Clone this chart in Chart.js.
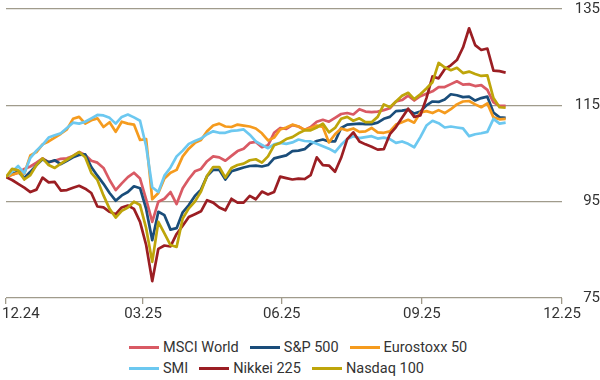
<!DOCTYPE html>
<html>
<head>
<meta charset="utf-8">
<script src="https://cdn.jsdelivr.net/npm/chart.js@4"></script>
<style>
  body { margin: 0; background: #fff; }
  #wrap { position: relative; width: 600px; height: 380px; font-family: Roboto, sans-serif; color: #333; }
  #legend { position: absolute; left: 129px; top: 337px; font-size: 14.5px; }
  .row { display: flex; height: 21px; align-items: center; white-space: nowrap; }
  .item { display: flex; align-items: center; margin-right: 11px; }
  .swatch { width: 30px; height: 3px; margin-right: 4px; }
</style>
</head>
<body>
<div id="wrap">
  <canvas id="chart" width="600" height="324"></canvas>
  <div id="legend"></div>
</div>
<script>
// x positions: samples every 4 calendar days from 31.12.2024
const dayStep = 4
const xTickDays = [0, 90, 181, 273, 365]
const xTickLabels = ['12.24', '03.25', '06.25', '09.25', '12.25']
const yTicks = [75, 95, 115, 135]

const seriesNames = ['MSCI World', 'S&P 500', 'Eurostoxx 50', 'SMI', 'Nikkei 225', 'Nasdaq 100']
const seriesColors = ['#D95A64', '#1A4D7A', '#F59B1E', '#6CC8F0', '#9B1E23', '#BEA50A']

const msciWorld = [
  100.1, 100.6, 101, 101.8, 102.3, 103.1, 104, 103.2, 103.5, 103.9,
  104, 104.5, 105.3, 104.7, 103.5, 103.1, 102, 99.5, 97.4, 98.8,
  100.1, 101, 99.8, 95.5, 90.8, 95, 95.6, 97, 94.5, 97.8,
  99.7, 101.3, 101.8, 103.4, 104.4, 104.2, 103.5, 104.5, 105.5, 106,
  107.2, 107.4, 106.3, 106.7, 109.3, 110.3, 110.1, 110.9, 110.6, 109.9,
  110.5, 111.6, 112, 111.6, 112.4, 113.2, 113.4, 113.1, 114.2, 113.7,
  113.6, 113.7, 114, 114.4, 115.8, 116.1, 117, 116, 116.9, 117.4,
  117.9, 118.8, 118.8, 119.4, 120, 119.3, 119.4, 119, 119.2, 118.2,
  115.6, 114.9, 114.9
]
const sp500 = [
  100.1, 100.8, 101.2, 99.9, 101.2, 102.6, 103.8, 103.2, 103.6, 102.8,
  103.5, 104.2, 104.7, 104.8, 102.2, 100.4, 98.7, 96.8, 95.2, 96.3,
  97, 98.2, 97.8, 93.5, 87, 92.9, 92.2, 89.2, 89.5, 92.8,
  94.3, 96.2, 97.5, 100.3, 101.6, 101.6, 99.6, 101.3, 101.7, 102.1,
  102.4, 102.5, 102.3, 102.6, 104, 104.3, 104.6, 105.5, 105.6, 105.9,
  107, 107.6, 107.9, 107.5, 107.5, 110.3, 111, 111.1, 111.2, 111.1,
  111.1, 111.4, 112.2, 112.6, 113.8, 113.9, 114.1, 113.3, 113.7, 115,
  115.8, 115.7, 116.2, 117.3, 117.1, 116.7, 116.8, 116, 116.5, 116.8,
  113.5, 112.5, 112.4
]
const eurostoxx50 = [
  100.1, 100.6, 101, 100.8, 104.6, 105.3, 106.9, 107.5, 108.3, 109.1,
  110, 112.2, 112.6, 111.2, 111.9, 112.3, 110.5, 111.5, 109.5, 111.6,
  111.2, 111, 107.8, 108, 95.5, 96.8, 99.8, 101, 101.6, 104.4,
  106, 107.2, 107.8, 109.6, 110.8, 111.2, 110.6, 110.5, 111, 110.8,
  110.6, 110.2, 109.2, 107.7, 108.3, 110, 110.4, 111, 110.6, 109.9,
  110.3, 110.8, 110.5, 107.3, 109, 110.2, 109.8, 110.2, 109.5, 109.6,
  110.3, 109.4, 109.3, 109.6, 111, 111.5, 112, 111.4, 113.5, 113.8,
  113.4, 114, 113.4, 114.2, 115.2, 115.8, 115.9, 115.2, 114.6, 115.4,
  112.5, 112.1, 112.2
]
const smi = [
  100.1, 101.2, 102.4, 100.9, 104.1, 105.6, 106.8, 108.3, 108.8, 109.2,
  110.3, 111.4, 111.2, 111.6, 112.3, 113, 112.9, 112.4, 111.2, 112.6,
  113.1, 112.5, 111.8, 106.5, 98, 97, 100.4, 102.1, 104.4, 105.6,
  107, 107.6, 108.1, 109, 109.6, 109.3, 109.3, 109.7, 109.8, 110,
  108.9, 107.5, 106.8, 106.1, 106.9, 107.2, 107, 107.3, 107.9, 107.6,
  107.5, 107, 106.5, 106, 105.3, 106.8, 108, 108.6, 108.2, 108.4,
  108.6, 108.1, 108.3, 108, 107.2, 107.5, 107, 106.3, 108.4, 110.8,
  111.8, 111.3, 110.4, 110.6, 110.4, 110.2, 108.6, 109, 109.2, 109.5,
  112.2, 111.2, 111.4
]
const nikkei225 = [
  100.1, 99.5, 98.7, 97.9, 97, 97.5, 100, 99, 99.1, 97.3,
  97.4, 97.9, 98.3, 97.7, 96.8, 94, 93.8, 92.9, 92.4, 93.8,
  94.2, 93.5, 90.8, 86, 78.5, 85.2, 85.9, 85.7, 88.3, 90,
  91.8, 92.4, 93, 95.3, 94.8, 93.8, 93.2, 95.6, 94.8, 94.8,
  96.2, 95.5, 97.1, 96.5, 97, 100.2, 99.9, 99.6, 99.8, 99.7,
  100.5, 104.2, 102.6, 102.5, 101.2, 104.1, 108, 109.4, 107.5, 106.9,
  106.4, 105.8, 105.9, 109, 110.5, 112.4, 114.3, 112.6, 112.9, 116.5,
  121, 120.6, 122.5, 123.3, 124.4, 127, 131, 127.5, 126.5, 126.8,
  122.2, 122.1, 121.8
]
const nasdaq100 = [
  100.1, 101.8, 101.5, 99.6, 100.5, 102.6, 104, 102.6, 102, 102.9,
  103.7, 104.5, 105.3, 104.2, 101, 99.5, 96.3, 93.5, 91.7, 93.1,
  93.8, 95, 94.3, 89.5, 82.5, 90.8, 88.4, 86, 85.6, 91.5,
  93.6, 95, 97.1, 100.4, 102.2, 102.2, 100, 102, 102.6, 102.9,
  103.6, 103.8, 103.1, 104.4, 106.7, 107.2, 108, 108.4, 109.2, 109.8,
  109.8, 110.4, 111.2, 109.4, 110.3, 112.2, 112.6, 111.8, 112.3, 111.5,
  111.5, 112.6, 115.2, 114.6, 115.8, 117, 117.6, 116.3, 117.3, 118.5,
  119.8, 123.8, 122.9, 122.3, 122.8, 121.7, 122, 121.5, 121.1, 121.2,
  116.5, 114.6, 114.5
]
const seriesValues = [msciWorld, sp500, eurostoxx50, smi, nikkei225, nasdaq100]

const TEXT = '#333333'
const GRID = '#A09B8C'
const FONT = 'Roboto, sans-serif'

const datasets = seriesNames.map((name, i) => ({
  label: name,
  data: seriesValues[i].map((v, k) => ({ x: k * dayStep, y: v })),
  borderColor: seriesColors[i],
  borderWidth: 2.7,
  borderJoinStyle: 'round',
  pointRadius: 0,
  tension: 0,
  order: seriesNames.length - i
}))

// x labels drawn by hand so the first one can sit inside the canvas
const xLabels = {
  id: 'xLabels',
  afterDraw(chart) {
    const { ctx, scales: { x } } = chart
    ctx.save()
    ctx.font = '15px ' + FONT
    ctx.fillStyle = TEXT
    ctx.textAlign = 'center'
    ctx.textBaseline = 'middle'
    xTickDays.forEach((d, i) => {
      const w = ctx.measureText(xTickLabels[i]).width
      const px = Math.max(x.getPixelForValue(d), w / 2 + 2)
      ctx.fillText(xTickLabels[i], px, x.top + 16)
    })
    ctx.restore()
  }
}

new Chart(document.getElementById('chart'), {
  type: 'line',
  data: { datasets },
  options: {
    responsive: false,
    animation: false,
    layout: { padding: { left: 6, top: 0, right: 0, bottom: 0 } },
    plugins: { legend: { display: false }, tooltip: { enabled: false } },
    scales: {
      x: {
        type: 'linear', min: 0, max: 365,
        afterBuildTicks: s => { s.ticks = xTickDays.map(v => ({ value: v })) },
        afterFit: s => { s.height = 26 },
        ticks: { display: false },
        grid: { drawOnChartArea: false, tickLength: 6, color: GRID, lineWidth: 1.3 },
        border: { display: false }
      },
      y: {
        position: 'right', min: 75, max: 135,
        afterBuildTicks: s => { s.ticks = yTicks.map(v => ({ value: v })) },
        afterFit: s => { s.width = 38; s.paddingTop = 9; s.paddingBottom = 9 },
        ticks: { font: { family: FONT, size: 15 }, color: TEXT, crossAlign: 'far', padding: 10 },
        grid: { color: GRID, lineWidth: 1.3, drawTicks: false },
        border: { display: false }
      }
    }
  },
  plugins: [xLabels]
})

// legend: two rows of three, left aligned
const legend = document.getElementById('legend')
;[[0, 1, 2], [3, 4, 5]].forEach(rowIdx => {
  const row = document.createElement('div')
  row.className = 'row'
  rowIdx.forEach(i => {
    const item = document.createElement('div')
    item.className = 'item'
    item.innerHTML = `<span class="swatch" style="background:${seriesColors[i]}"></span><span>${seriesNames[i]}</span>`
    row.appendChild(item)
  })
  legend.appendChild(row)
})
</script>
</body>
</html>
